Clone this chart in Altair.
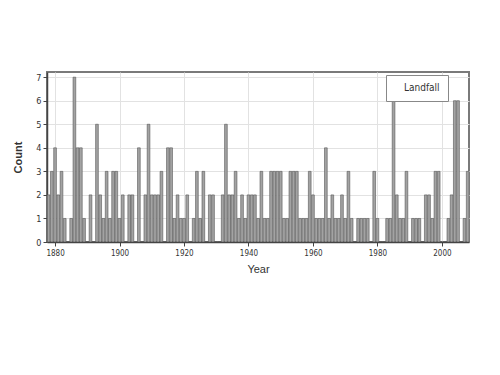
import altair as alt
import pandas as pd

years = list(range(1878, 2009))
counts = [
    2, 3, 4, 2, 3, 1, 0, 1, 7, 4, 4, 1,          # 1878-1889
    0, 2, 0, 5, 2, 1, 3, 1, 3, 3,                # 1890-1899
    1, 2, 0, 2, 2, 0, 4, 0, 2, 5,                # 1900-1909
    2, 2, 2, 3, 0, 4, 4, 1, 2, 1,                # 1910-1919
    1, 2, 0, 1, 3, 1, 3, 0, 2, 2,                # 1920-1929
    0, 0, 2, 5, 2, 2, 3, 1, 2, 1,                # 1930-1939
    2, 2, 2, 1, 3, 1, 1, 3, 3, 3,                # 1940-1949
    3, 1, 1, 3, 3, 3, 1, 1, 1, 3,                # 1950-1959
    2, 1, 1, 1, 4, 1, 2, 1, 1, 2,                # 1960-1969
    1, 3, 1, 0, 1, 1, 1, 1, 0, 3,                # 1970-1979
    1, 0, 0, 1, 1, 6, 2, 1, 1, 3,                # 1980-1989
    0, 1, 1, 1, 0, 2, 2, 1, 3, 3,                # 1990-1999
    0, 0, 1, 2, 6, 6, 0, 1, 3,                   # 2000-2008
]
series_name = "Landfall"
x_ticks = [1880, 1900, 1920, 1940, 1960, 1980, 2000]
y_ticks = [0, 1, 2, 3, 4, 5, 6, 7]

df = pd.DataFrame({"year": years, "count": counts, "series": series_name})

FONT = "DejaVu Sans Condensed"

chart = (
    alt.Chart(df)
    .transform_calculate(x0="datum.year - 0.42", x1="datum.year + 0.42")
    .mark_bar(clip=True, stroke="#555555", strokeWidth=0.6)
    .encode(
        x=alt.X(
            "x0:Q",
            scale=alt.Scale(domain=[1877.5, 2008.4], nice=False, zero=False),
            axis=alt.Axis(
                title="Year",
                values=x_ticks,
                format="d",
                grid=True,
                gridColor="#e2e2e2",
                labelFontSize=8,
                labelFont=FONT,
                labelColor="#333333",
                titleFontSize=11,
                titleFont="Liberation Sans",
                titleFontWeight="normal",
                titleColor="#333333",
                titlePadding=6,
                tickSize=4,
                tickColor="#444444",
                domainColor="#444444",
                domainWidth=1.5,
                labelPadding=3,
            ),
        ),
        x2="x1:Q",
        y=alt.Y(
            "count:Q",
            scale=alt.Scale(domain=[0, 7.22], nice=False),
            axis=alt.Axis(
                title="Count",
                values=y_ticks,
                grid=True,
                gridColor="#e2e2e2",
                labelFontSize=9,
                labelFont=FONT,
                labelColor="#333333",
                titleFontSize=11,
                titleFont="Liberation Sans",
                titleFontWeight="bold",
                titleColor="#333333",
                titlePadding=12,
                tickSize=4,
                tickColor="#444444",
                domainColor="#444444",
                domainWidth=1.5,
                labelPadding=2,
            ),
        ),
        y2=alt.datum(0),
        color=alt.Color(
            "series:N",
            scale=alt.Scale(range=["#a3a3a3"]),
            legend=alt.Legend(
                title=None,
                orient="none",
                legendX=339,
                legendY=3,
                fillColor="white",
                strokeColor="#888888",
                padding=8,
                symbolSize=0,
                symbolStrokeWidth=0,
                symbolOffset=0,
                labelOffset=0,
                labelFontSize=10,
                labelFont=FONT,
                labelColor="#333333",
            ),
        ),
    )
    .properties(
        width=422,
        height=170,
        autosize="none",
        padding={"left": 47, "top": 72, "right": 31, "bottom": 133},
    )
    .configure_view(stroke="#7a7a7a", strokeWidth=2)
)

chart.save("out.html", embed_options={"renderer": "svg", "actions": False})
